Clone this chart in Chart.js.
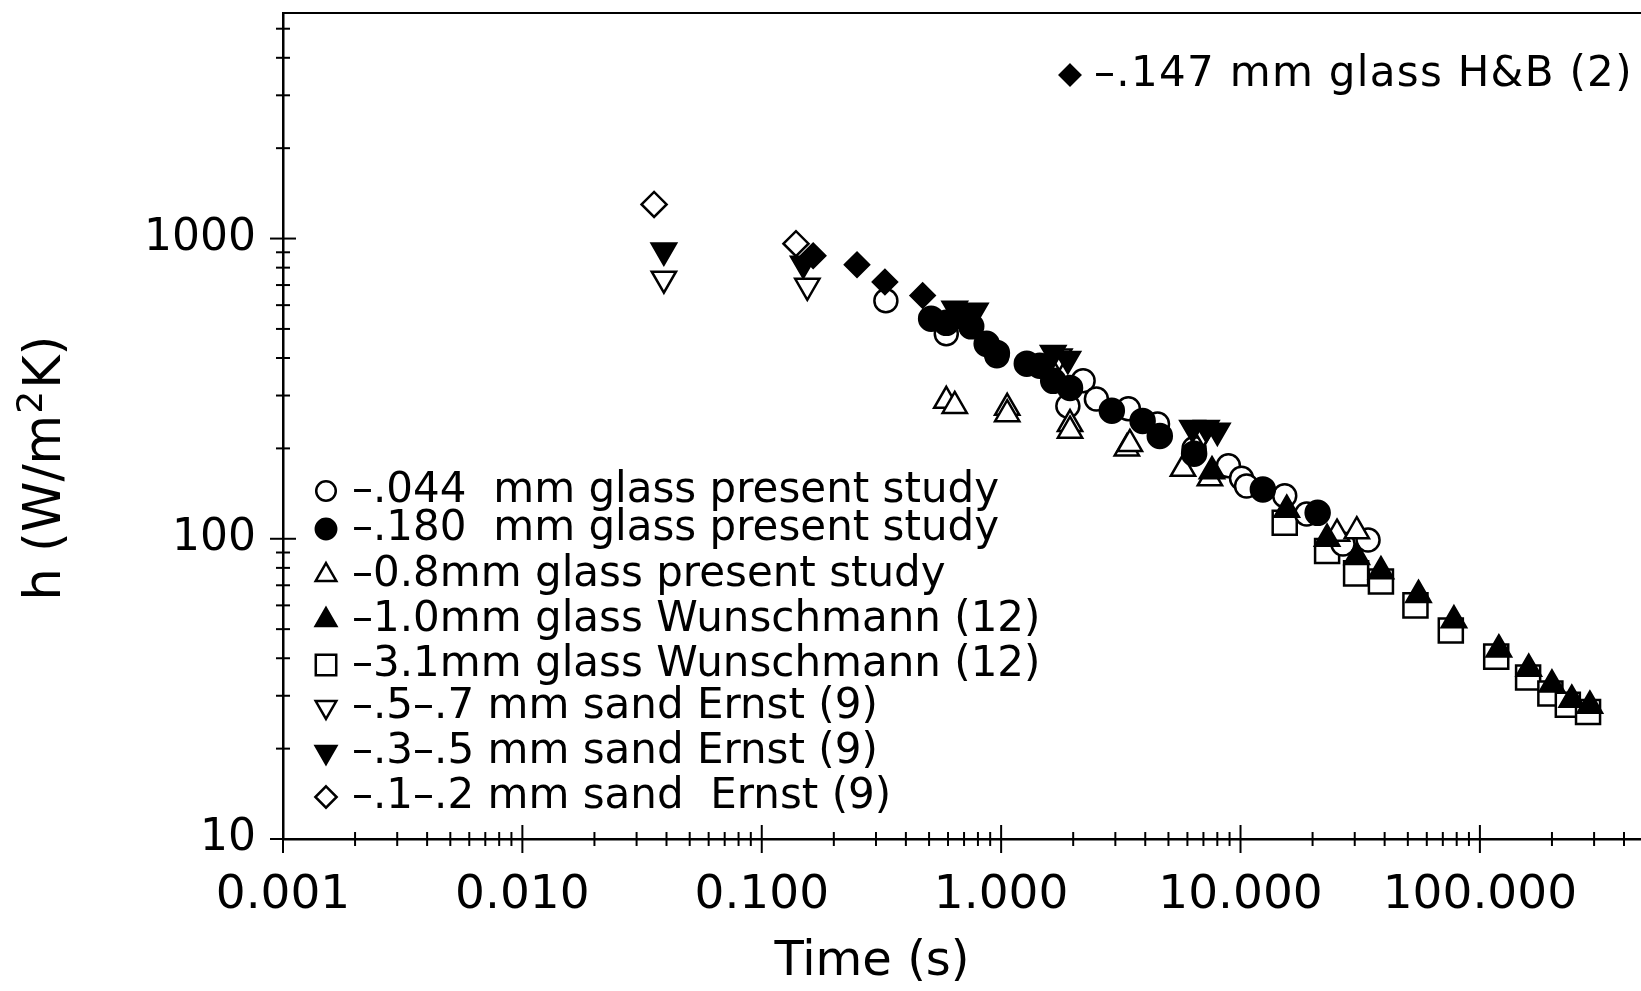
<!DOCTYPE html>
<html>
<head>
    <title>h vs Time</title>
    <script src="https://cdn.jsdelivr.net/npm/chart.js"></script>
    <style>
        html, body { margin: 0; padding: 0; background: #fff; }
        #wrap { width: 1641px; height: 991px; }
    </style>
</head>
<body>
<div id="wrap"><canvas id="chart" width="1641" height="991"></canvas></div>
<script>
    // series: time (s) / h (W/m2K)
    const glass044T = [0.33, 0.59, 0.96, 1.9, 2.2, 2.5, 3.4, 4.5, 6.4, 8.9, 10.1, 10.6, 15.3, 18.9, 26.8, 34.1];
    const glass044H = [621, 482, 407, 277, 336, 292, 271, 241, 200, 175, 159, 150, 139, 121, 96, 99];

    const glass180T = [0.51, 0.59, 0.66, 0.75, 0.87, 0.96, 1.28, 1.45, 1.65, 1.94, 2.9, 3.9, 4.6, 6.4, 12.4, 21.0];
    const glass180H = [541, 524, 553, 510, 446, 416, 383, 377, 336, 318, 267, 247, 220, 192, 146, 122];

    const glass08T = [0.59, 0.64, 1.06, 1.06, 1.94, 1.94, 3.35, 3.45, 5.75, 7.45, 25.3, 30.6];
    const glass08H = [288, 277, 273, 260, 241, 229, 200, 207, 171, 159, 104, 106];

    const glass10T = [7.6, 15.6, 23.0, 30.6, 38.6, 55.4, 77.9, 120, 160, 200, 242, 288];
    const glass10H = [168, 125, 100, 87, 78, 65, 53.5, 42.8, 36.9, 32.7, 29.1, 27.8];

    const glass31T = [15.3, 23.0, 30.4, 38.6, 53.8, 75.6, 117, 159, 197, 233, 283];
    const glass31H = [113, 91, 76.7, 72.1, 60.0, 49.5, 40.5, 34.5, 30.5, 28.0, 26.5];

    const sand57T = [0.039, 0.155, 0.72, 1.75, 7.0];
    const sand57H = [735, 696, 560, 405, 226];

    const sand35T = [0.039, 0.149, 0.64, 0.78, 1.65, 1.9, 6.3, 7.2, 8.0];
    const sand35H = [912, 825, 584, 575, 416, 397, 234, 234, 229];

    const sand12T = [0.0355, 0.139];
    const sand12H = [1299, 961];

    const hbT = [0.164, 0.25, 0.327, 0.47];
    const hbH = [877, 818, 717, 646];

    const seriesLabels = [
        '–.044  mm glass present study',
        '–.180  mm glass present study',
        '–0.8mm glass present study',
        '–1.0mm glass Wunschmann (12)',
        '–3.1mm glass Wunschmann (12)',
        '–.5–.7 mm sand Ernst (9)',
        '–.3–.5 mm sand Ernst (9)',
        '–.1–.2 mm sand  Ernst (9)',
        '–.147 mm glass H&B (2)'
    ];

    const xDecades = [0.001, 0.01, 0.1, 1, 10, 100];
    const xTickLabels = ['0.001', '0.010', '0.100', '1.000', '10.000', '100.000'];
    const yDecades = [10, 100, 1000];
    const yTickLabels = ['10', '100', '1000'];

    const X_MIN = 0.001, X_MAX = 471;
    const Y_MIN = 10, Y_MAX = 5640;
    const FONT = 'DejaVu Sans';

    function pts(t, h) {
        return t.map((v, i) => ({ x: v, y: h[i] }));
    }

    // log ticks 1..9 x each decade, inside the axis range
    function logTicks(decades, min, max) {
        const out = [];
        const all = decades.concat([decades[decades.length - 1] * 10]);
        all.forEach(d => {
            for (let m = 1; m <= 9; m++) {
                const v = +(d * m).toPrecision(6);
                if (v >= min * 0.9999 && v <= max) out.push({ value: v, major: m === 1 });
            }
        });
        return out;
    }

    function labelFor(value, decades, labels) {
        for (let i = 0; i < decades.length; i++) {
            if (Math.abs(value / decades[i] - 1) < 1e-6) return labels[i];
        }
        return '';
    }

    function ds(label, data, style, filled, radius, rotation, order) {
        return {
            label: label,
            data: data,
            pointStyle: style,
            pointRotation: rotation,
            pointRadius: radius,
            pointHoverRadius: radius,
            pointBorderWidth: 2.5,
            borderColor: '#000',
            backgroundColor: filled ? '#000' : '#fff',
            showLine: false,
            order: order
        };
    }

    const datasets = [
        ds(seriesLabels[0], pts(glass044T, glass044H), 'circle', false, 11.5, 0, 8),
        ds(seriesLabels[1], pts(glass180T, glass180H), 'circle', true, 12, 0, 2),
        ds(seriesLabels[2], pts(glass08T, glass08H), 'triangle', false, 14, 0, 6),
        ds(seriesLabels[3], pts(glass10T, glass10H), 'triangle', true, 14, 0, 1),
        ds(seriesLabels[4], pts(glass31T, glass31H), 'rect', false, 17, 0, 9),
        ds(seriesLabels[5], pts(sand57T, sand57H), 'triangle', false, 14, 180, 5),
        ds(seriesLabels[6], pts(sand35T, sand35H), 'triangle', true, 14, 180, 3),
        ds(seriesLabels[7], pts(sand12T, sand12H), 'rectRot', false, 12.5, 0, 7),
        ds(seriesLabels[8], pts(hbT, hbH), 'rectRot', true, 12, 0, 4)
    ];

    function drawMarker(ctx, style, rot, filled, x, y, r) {
        ctx.save();
        ctx.beginPath();
        if (style === 'circle') {
            ctx.arc(x, y, r, 0, Math.PI * 2);
        } else if (style === 'triangle') {
            const s = rot ? -1 : 1;
            ctx.moveTo(x, y - s * r);
            ctx.lineTo(x + r * 0.866, y + s * r * 0.5);
            ctx.lineTo(x - r * 0.866, y + s * r * 0.5);
            ctx.closePath();
        } else if (style === 'rect') {
            const h = r * Math.SQRT1_2;
            ctx.rect(x - h, y - h, 2 * h, 2 * h);
        } else {
            ctx.moveTo(x, y - r);
            ctx.lineTo(x + r, y);
            ctx.lineTo(x, y + r);
            ctx.lineTo(x - r, y);
            ctx.closePath();
        }
        ctx.fillStyle = filled ? '#000' : '#fff';
        ctx.fill();
        ctx.lineWidth = 2.5;
        ctx.strokeStyle = '#000';
        ctx.stroke();
        ctx.restore();
    }

    const legendRowsY = [491, 529, 575, 620, 665, 707, 752, 797];

    const framePlugin = {
        id: 'frame',
        afterDraw(chart) {
            const ctx = chart.ctx;
            const area = chart.chartArea;
            ctx.save();
            ctx.strokeStyle = '#000';
            // top frame line
            ctx.lineWidth = 2;
            ctx.beginPath();
            ctx.moveTo(area.left, area.top);
            ctx.lineTo(area.right, area.top);
            ctx.stroke();

            // crossing tick marks
            const xs = chart.scales.x, ys = chart.scales.y;
            xs.ticks.forEach(t => {
                const px = xs.getPixelForValue(t.value);
                const len = t.major ? 14 : 7;
                ctx.beginPath();
                ctx.moveTo(px, area.bottom - len);
                ctx.lineTo(px, area.bottom + len);
                ctx.stroke();
            });
            ys.ticks.forEach(t => {
                const py = ys.getPixelForValue(t.value);
                const len = t.major ? 13 : 7;
                ctx.beginPath();
                ctx.moveTo(area.left - len, py);
                ctx.lineTo(area.left + len, py);
                ctx.stroke();
            });

            ctx.fillStyle = '#000';
            ctx.textBaseline = 'middle';

            // axis titles
            ctx.font = '48px "' + FONT + '"';
            ctx.textAlign = 'center';
            ctx.fillText('Time (s)', 872, 963);

            ctx.save();
            ctx.translate(47, 468);
            ctx.rotate(-Math.PI / 2);
            const big = '51px "' + FONT + '"', small = '36px "' + FONT + '"';
            ctx.font = big;
            const wA = ctx.measureText('h (W/m').width;
            const wC = ctx.measureText('K)').width;
            ctx.font = small;
            const wB = ctx.measureText('2').width + 3;
            let x0 = -(wA + wB + wC) / 2;
            ctx.textAlign = 'left';
            ctx.font = big;
            ctx.fillText('h (W/m', x0, 0);
            ctx.font = small;
            ctx.fillText('2', x0 + wA + 1, -14);
            ctx.font = big;
            ctx.fillText('K)', x0 + wA + wB, 0);
            ctx.restore();

            // legend inside the plot
            ctx.font = '42px "' + FONT + '"';
            ctx.textAlign = 'left';
            chart.data.datasets.forEach((d, i) => {
                const filled = d.backgroundColor === '#000';
                let mx, tx, y;
                if (i < 8) {
                    mx = 326; tx = 352; y = legendRowsY[i];
                    ctx.letterSpacing = '0px';
                } else {
                    mx = 1070; tx = 1094; y = 75;
                    ctx.letterSpacing = '1.3px';
                }
                drawMarker(ctx, d.pointStyle, d.pointRotation, filled, mx, y, d.pointRadius * 0.85);
                ctx.fillText(d.label, tx, y);
            });
            ctx.letterSpacing = '0px';
            ctx.restore();
        }
    };

    new Chart(document.getElementById('chart'), {
        type: 'scatter',
        data: { datasets: datasets },
        plugins: [framePlugin],
        options: {
            responsive: false,
            animation: false,
            layout: { autoPadding: false, padding: { top: 13, right: 0, bottom: 0, left: 0 } },
            plugins: {
                legend: { display: false },
                tooltip: { enabled: false }
            },
            scales: {
                x: {
                    type: 'logarithmic',
                    min: X_MIN,
                    max: X_MAX,
                    afterBuildTicks: scale => { scale.ticks = logTicks(xDecades, X_MIN, X_MAX); },
                    afterFit: scale => {
                        scale.height = 152;
                        scale.paddingLeft = 0;
                        scale.paddingRight = 0;
                    },
                    grid: { display: false, drawTicks: false },
                    border: { display: true, color: '#000', width: 2.5 },
                    ticks: {
                        autoSkip: false,
                        maxRotation: 0,
                        padding: 29,
                        color: '#000',
                        font: { family: FONT, size: 47 },
                        callback: v => labelFor(v, xDecades, xTickLabels)
                    }
                },
                y: {
                    type: 'logarithmic',
                    min: Y_MIN,
                    max: Y_MAX,
                    afterBuildTicks: scale => { scale.ticks = logTicks(yDecades, Y_MIN, Y_MAX); },
                    afterFit: scale => {
                        scale.width = 283;
                        scale.paddingTop = 0;
                        scale.paddingBottom = 0;
                    },
                    grid: { display: false, drawTicks: false },
                    border: { display: true, color: '#000', width: 2.5 },
                    ticks: {
                        autoSkip: false,
                        padding: 27,
                        color: '#000',
                        font: { family: FONT, size: 44 },
                        callback: v => labelFor(v, yDecades, yTickLabels)
                    }
                }
            }
        }
    });
</script>
</body>
</html>
